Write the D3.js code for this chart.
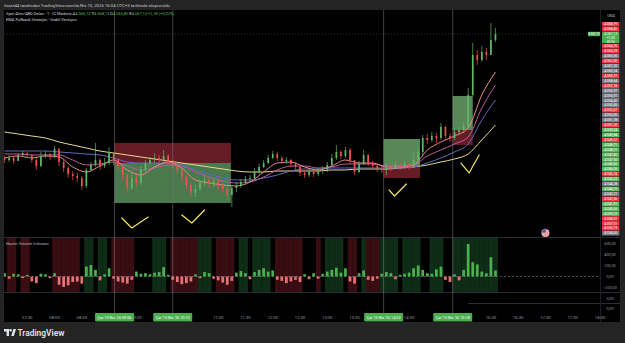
<!DOCTYPE html>
<html><head><meta charset="utf-8">
<script src="https://cdn.jsdelivr.net/npm/d3@7"></script>
<style>
html,body{margin:0;padding:0;background:#242424;overflow:hidden;}
svg{display:block;font-family:Roboto,"Noto Sans",sans-serif;}
</style></head><body>
<svg id="c" width="625" height="343"></svg>
<script>
// ---------------- DATA ----------------
const barStart = "07:05";
const barStepMin = 5;
const firstOpen = 4046.47;
const closes = [4046.13,4046.47,4045.97,4046.97,4047.30,4046.97,4046.13,4045.13,4046.80,4047.13,
 4046.63,4047.97,4045.80,4044.80,4043.80,4043.47,4043.13,4041.80,4044.47,4045.30,
 4046.13,4045.13,4045.63,4047.47,4046.13,4045.13,4043.63,4041.47,4043.13,4042.30,
 4044.47,4045.63,4046.13,4046.47,4046.13,4046.80,4045.80,4045.30,4044.47,4043.30,
 4041.97,4040.63,4041.30,4042.30,4042.80,4042.13,4042.63,4041.80,4041.30,4040.30,
 4041.47,4041.80,4042.47,4042.97,4043.13,4044.13,4044.97,4045.63,4046.47,4047.13,
 4046.47,4045.97,4046.13,4045.47,4044.97,4043.97,4043.63,4044.13,4043.80,4044.30,
 4044.47,4045.30,4046.47,4047.47,4046.80,4047.80,4046.13,4044.13,4045.47,4046.97,
 4045.63,4045.13,4044.63,4044.47,4044.97,4044.80,4045.30,4045.13,4045.47,4044.97,
 4046.13,4047.47,4049.80,4049.47,4050.13,4049.80,4051.63,4050.13,4049.80,4050.80,
 4051.13,4051.80,4056.97,4063.63,4062.80,4064.13,4063.63,4066.13,4067.13];
const highs = [4046.80,4046.97,4046.63,4047.30,4047.63,4047.47,4047.13,4046.47,4047.47,4047.63,
 4047.30,4048.47,4048.13,4046.13,4045.13,4044.30,4043.97,4043.47,4044.80,4045.80,
 4048.97,4046.47,4046.47,4048.30,4047.47,4046.47,4045.30,4043.80,4043.97,4043.63,
 4045.13,4046.13,4046.63,4047.30,4046.97,4047.80,4047.13,4046.13,4045.80,4044.80,
 4043.63,4042.30,4041.97,4042.80,4043.47,4043.30,4043.13,4042.80,4042.30,4041.80,
 4041.97,4042.47,4042.97,4043.47,4043.63,4044.80,4045.47,4046.13,4046.97,4047.63,
 4047.47,4046.80,4046.63,4046.30,4045.80,4045.13,4044.47,4044.63,4044.47,4044.80,
 4045.13,4045.80,4047.13,4048.63,4047.80,4048.30,4048.13,4046.13,4045.97,4047.80,
 4047.13,4045.97,4045.30,4045.13,4045.63,4045.47,4045.80,4045.63,4045.97,4045.63,
 4047.30,4048.13,4050.30,4050.47,4050.80,4050.63,4052.30,4051.80,4050.63,4051.47,
 4051.63,4052.47,4058.13,4065.63,4064.47,4065.13,4064.80,4068.97,4068.13];
const lows = [4045.63,4045.80,4045.47,4045.97,4046.80,4046.47,4045.63,4044.47,4044.97,4046.47,
 4046.13,4046.47,4045.13,4044.13,4043.13,4042.80,4042.47,4041.13,4041.47,4044.30,
 4044.97,4044.47,4044.80,4045.30,4045.30,4044.47,4042.80,4040.63,4041.13,4041.63,
 4041.97,4044.13,4045.30,4045.63,4045.47,4045.80,4045.13,4044.63,4043.80,4042.63,
 4041.30,4039.97,4039.97,4040.97,4041.80,4041.47,4041.63,4041.13,4040.63,4039.47,
 4038.30,4040.80,4041.47,4042.13,4042.47,4042.97,4043.80,4044.80,4045.47,4046.30,
 4045.97,4045.47,4045.47,4044.97,4044.47,4043.47,4043.13,4043.30,4043.30,4043.47,
 4043.80,4044.13,4045.13,4046.13,4046.30,4046.47,4045.47,4043.63,4043.97,4045.30,
 4045.13,4044.63,4044.13,4043.97,4043.63,4044.30,4044.63,4044.47,4044.80,4044.47,
 4044.80,4045.47,4046.97,4048.80,4049.13,4048.97,4049.47,4049.47,4049.13,4049.47,
 4050.30,4050.63,4051.47,4056.80,4061.97,4062.47,4062.80,4063.63,4065.80];
const volumes = [60,-40,50,40,-30,30,-90,-120,50,40,
 -30,60,-150,-190,-160,-100,-90,-130,180,210,
 120,-70,40,150,-40,-90,-110,-130,-60,90,
 50,60,40,70,80,170,30,-60,-100,-140,
 -120,-90,40,-30,80,60,-40,-70,-110,-150,
 -80,70,100,60,-50,80,120,150,90,110,
 -60,-80,-120,-90,-60,-100,40,-50,60,-40,
 50,90,120,160,70,150,-90,-130,60,110,
 -60,-80,-40,50,80,60,-50,30,50,70,
 150,200,120,60,50,130,180,-60,-100,40,
 -70,120,590,260,220,90,60,350,110];
const volumeState = [0,-1,-1,0,-1,-1,0,0,0,0,
 0,-1,-1,-1,-1,-1,-1,0,1,1,
 0,1,1,0,-1,-1,-1,-1,-1,0,
 0,0,0,1,1,1,0,-1,-1,-1,
 -1,-1,-1,1,1,1,0,-1,-1,-1,
 -1,0,1,1,0,1,1,1,1,0,
 -1,-1,-1,-1,-1,-1,0,0,0,-1,
 0,1,1,1,1,0,-1,-1,0,1,
 -1,-1,-1,1,1,1,1,0,1,1,
 1,1,0,0,1,1,1,0,0,1,
 1,1,1,1,1,1,1,1,1];
const emaStart = "07:05";
const emaStepMin = 15;
const emaFast = [4046.47,4046.80,4046.47,4046.80,4046.63,4044.97,4044.13,4045.13,4046.13,4044.47,4043.63,4044.97,4045.80,4044.80,4042.80,4042.30,4041.97,4041.80,4042.47,4044.13,4045.63,4045.80,4044.97,4044.47,4045.13,4046.13,4045.63,4045.63,4044.97,4044.97,4045.30,4047.80,4049.13,4050.13,4051.47,4056.97,4060.80];
const emaMid = [4047.13,4047.13,4046.97,4046.97,4046.97,4046.13,4045.30,4045.47,4045.80,4045.13,4044.47,4044.80,4045.30,4045.13,4044.13,4043.30,4042.63,4042.30,4042.47,4043.30,4044.47,4045.13,4045.13,4044.80,4044.97,4045.47,4045.47,4045.47,4045.13,4045.13,4045.30,4046.80,4047.80,4048.80,4049.97,4054.80,4058.63];
const emaSlow = [4047.63,4047.63,4047.63,4047.63,4047.47,4047.30,4047.13,4046.97,4046.47,4045.80,4045.63,4045.63,4045.63,4045.30,4044.47,4043.80,4043.13,4042.80,4042.80,4043.13,4043.63,4044.30,4044.63,4044.63,4044.80,4044.80,4044.80,4044.80,4044.80,4044.80,4044.97,4045.63,4046.47,4047.47,4048.80,4052.80,4056.13];
const emaLong = [4050.80,4050.47,4050.13,4049.80,4049.13,4048.63,4048.13,4047.63,4047.30,4046.97,4046.63,4046.30,4045.97,4045.63,4045.30,4044.97,4044.63,4044.30,4044.13,4044.13,4044.30,4044.30,4044.30,4044.30,4044.47,4044.47,4044.63,4044.63,4044.63,4044.80,4044.97,4045.30,4045.80,4046.30,4047.13,4049.47,4051.97];
// position tools
const zoneStart = ["09:06","10:10","14:02","15:18"];
const zoneEnd   = ["10:10","11:14","14:42","15:40"];
const zoneHigh  = [4048.97,4048.97,4049.63,4056.80];
const zoneEntry = [4045.63,4045.63,4045.13,4051.13];
const zoneLow   = [4038.97,4038.97,4043.13,4048.63];
const zoneSide  = [-1,-1,1,1]; // -1 short, 1 long
// hand drawn check marks
const checkTimes  = [["09:14","09:25","09:43"],["10:20","10:31","10:45"],["14:08","14:14","14:27"],["15:27","15:36","15:47"]];
const checkPrices = [[4036.47,4034.80,4036.63],[4036.97,4035.63,4037.80],[4041.13,4040.13,4042.13],[4045.63,4043.97,4046.97]];
// vertical markers
const markerTimes = ["09:06","10:10","14:02","15:18"];
const markerLabels = ["Çar 15 Nis '26  09:06","Çar 15 Nis '26  10:10","Çar 15 Nis '26  14:02","Çar 15 Nis '26  15:18"];
const timeTicks = ["07:30","08:00","08:30","09:30","11:00","11:30","12:00","12:30","13:00","13:30","14:30","16:00","16:30","17:00","17:30","18:00"];
const volumeTicks = [600,400,200,0,-200];
const eventTime = "17:00";
// price scale labels (stacked)
const axisAbove = [4068.79,4068.45];
const axisAboveKind = [-1,-1];
const axisBelow = [4064.70,4064.29,4063.30,4062.50,4061.20,4060.24,4059.77,4058.64,4057.18,4055.97,
 4055.01,4054.42,4053.45,4052.67,4052.00,4051.78,4051.20,4050.24,4049.84,4049.22,
 4048.71,4048.21,4047.82,4047.30,4046.60,4046.05,4045.74,4045.22,4044.28,4044.15,
 4043.21,4042.56,4041.97,4040.65,4039.22,4038.51,4037.51,4036.19,4034.65];
const axisBelowKind = [-1,-1,0,-1,0,0,-1,0,-1,0,
 0,0,0,-1,0,0,-1,1,1,-1,
 1,1,1,1,1,1,-1,1,0,1,
 0,-1,1,1,1,-1,-1,-1,0];
const headerText = "fozze44 tarafından TradingView.com'da Nis 15, 2026 16:04 UTC+3 tarihinde oluşturuldu";
const symbolText = "Spot Altın/ABD Doları · 1 · IC Markets";
const strategyText = "EMA Pullback Stratejisi - Stabil Versiyon";
const volumeTitle = "Hacim Volume Indicator";

// ---------------- SETUP ----------------
const svg = d3.select("#c");
const W = 625, H = 343;
const L = 4, R = 600, AX = 620;
const mainTop = 10, mainBot = 237, volTop = 238, volBot = 292, axTop = 312, axBot = 322;
const UP = "#5fb863", DN = "#ef5350", GRAY = "#787b86";
const loc = d3.formatLocale({decimal: ",", thousands: ".", grouping: [3], currency: ["", ""]});
const fmtP = loc.format(",.2f");
const fmtV = loc.format(".2f");

const parseT = s => { const [h, m] = s.split(":").map(Number); return new Date(2026, 3, 15, h, m); };
const x = d3.scaleTime().domain([parseT("07:00"), parseT("18:00")]).range([0, 600]);
const y = d3.scaleLinear().domain([4033.30, 4071.13]).range([mainBot, mainTop]);
const yv = d3.scaleLinear().domain([-200, 600]).range([287.5, 243.5]);

const t0 = parseT(barStart);
const bars = closes.map((c, i) => {
  const o = i === 0 ? firstOpen : closes[i - 1];
  return {t: new Date(+t0 + i * barStepMin * 60000), o, c, h: Math.max(highs[i], o, c), l: Math.min(lows[i], o, c), v: volumes[i], s: volumeState[i]};
});
const stepPx = x(new Date(+t0 + barStepMin * 60000)) - x(t0);

svg.append("rect").attr("width", W).attr("height", H).attr("fill", "#242424");
svg.append("rect").attr("x", L).attr("y", mainTop).attr("width", AX - L).attr("height", axBot - mainTop).attr("fill", "#000");

const defs = svg.append("defs");
defs.append("clipPath").attr("id", "clipMain").append("rect").attr("x", L).attr("y", mainTop).attr("width", R - L).attr("height", mainBot - mainTop);
defs.append("clipPath").attr("id", "clipVol").append("rect").attr("x", L).attr("y", volTop).attr("width", R - L).attr("height", volBot - volTop);

// ---------------- MAIN PANE ----------------
const gm = svg.append("g").attr("clip-path", "url(#clipMain)");

zoneStart.forEach((s, i) => {
  const x0 = x(parseT(s)), x1 = x(parseT(zoneEnd[i]));
  const upperCol = zoneSide[i] > 0 ? "#5d8f5d" : "#6b1d26";
  const lowerCol = zoneSide[i] > 0 ? "#6b1d26" : "#4f7f52";
  gm.append("rect").attr("x", x0).attr("y", y(zoneHigh[i])).attr("width", x1 - x0)
    .attr("height", y(zoneEntry[i]) - y(zoneHigh[i])).attr("fill", upperCol).attr("opacity", 0.95);
  gm.append("rect").attr("x", x0).attr("y", y(zoneEntry[i])).attr("width", x1 - x0)
    .attr("height", y(zoneLow[i]) - y(zoneEntry[i])).attr("fill", lowerCol).attr("opacity", 0.95);
});

const e0 = parseT(emaStart);
const emaLine = d3.line().x((d, i) => x(new Date(+e0 + i * emaStepMin * 60000))).y(d => y(d)).curve(d3.curveMonotoneX);
[[emaLong, "#e8da8e"], [emaSlow, "#5c6bc0"], [emaMid, "#c05a9c"], [emaFast, "#ef8a8a"]].forEach(([arr, col]) => {
  gm.append("path").datum(arr).attr("d", emaLine).attr("fill", "none").attr("stroke", col).attr("stroke-width", 1);
});

const bw = 1.7;
const cg = gm.append("g");
cg.selectAll("line").data(bars).join("line")
  .attr("x1", d => x(d.t)).attr("x2", d => x(d.t))
  .attr("y1", d => y(d.h)).attr("y2", d => y(d.l))
  .attr("stroke", d => d.c >= d.o ? UP : DN).attr("stroke-width", 0.7);
cg.selectAll("rect").data(bars).join("rect")
  .attr("x", d => x(d.t) - bw / 2).attr("width", bw)
  .attr("y", d => y(Math.max(d.o, d.c))).attr("height", d => Math.max(0.8, Math.abs(y(d.o) - y(d.c))))
  .attr("fill", d => d.c >= d.o ? UP : DN);

const last = bars[bars.length - 1];
gm.append("line").attr("x1", L).attr("x2", R).attr("y1", y(last.c)).attr("y2", y(last.c))
  .attr("stroke", UP).attr("stroke-opacity", 0.35).attr("stroke-dasharray", "1,2");
gm.append("rect").attr("x", R - 12).attr("y", y(last.c) - 2.2).attr("width", 12).attr("height", 4.4).attr("fill", "#4caf50");
gm.append("text").attr("x", R - 6).attr("y", y(last.c) + 1.2).attr("text-anchor", "middle").attr("font-size", 3).attr("fill", "#fff").text(fmtP(last.c));

const chkLine = d3.line().x(d => x(parseT(d[0]))).y(d => y(d[1]));
checkTimes.forEach((ts, i) => {
  gm.append("path").datum(ts.map((t, k) => [t, checkPrices[i][k]])).attr("d", chkLine)
    .attr("fill", "none").attr("stroke", "#f5e663").attr("stroke-width", 1.2).attr("stroke-linecap", "round").attr("stroke-linejoin", "round");
});

const fx = x(parseT(eventTime)), fy = 233;
defs.append("clipPath").attr("id", "flagClip").append("circle").attr("cx", fx).attr("cy", fy).attr("r", 3.8);
const fg = svg.append("g").attr("clip-path", "url(#flagClip)");
fg.append("rect").attr("x", fx - 4).attr("y", fy - 4).attr("width", 8).attr("height", 8).attr("fill", "#e53935");
[ -2.5, -0.5, 1.5, 3.5 ].forEach(o => fg.append("rect").attr("x", fx - 4).attr("y", fy + o).attr("width", 8).attr("height", 1).attr("fill", "#fff"));
fg.append("rect").attr("x", fx - 4).attr("y", fy - 4).attr("width", 4).attr("height", 3.5).attr("fill", "#3949ab");
svg.append("circle").attr("cx", fx).attr("cy", fy).attr("r", 3.9).attr("fill", "none").attr("stroke", "#ddd").attr("stroke-width", 0.5);

// ---------------- VOLUME PANE ----------------
const gv = svg.append("g").attr("clip-path", "url(#clipVol)");
gv.selectAll("rect.bg").data(bars.filter(d => d.s !== 0)).join("rect").attr("class", "bg")
  .attr("x", d => x(d.t) - stepPx / 2).attr("width", stepPx + 0.2)
  .attr("y", volTop).attr("height", volBot - volTop)
  .attr("fill", d => d.s > 0 ? "#0f2c17" : "#3a0d12");
gv.append("line").attr("x1", L).attr("x2", R).attr("y1", yv(0)).attr("y2", yv(0))
  .attr("stroke", GRAY).attr("stroke-dasharray", "2,2").attr("stroke-width", 0.6);
gv.selectAll("rect.v").data(bars).join("rect").attr("class", "v")
  .attr("x", d => x(d.t) - stepPx * 0.3).attr("width", stepPx * 0.6)
  .attr("y", d => Math.min(yv(0), yv(d.v))).attr("height", d => Math.abs(yv(d.v) - yv(0)))
  .attr("fill", d => d.v >= 0 ? "#4caf50" : "#e57373");
gv.append("text").attr("x", 6).attr("y", 245).attr("font-size", 4).attr("fill", "#b2b5be").text(volumeTitle);

svg.append("line").attr("x1", L).attr("x2", AX).attr("y1", 237.5).attr("y2", 237.5).attr("stroke", "#2a2e39");
svg.append("line").attr("x1", L).attr("x2", AX).attr("y1", 292.5).attr("y2", 292.5).attr("stroke", "#2a2e39");
svg.append("line").attr("x1", x(parseT("15:35"))).attr("x2", AX).attr("y1", 303.5).attr("y2", 303.5).attr("stroke", "#2a2e39");
svg.append("line").attr("x1", R + 0.5).attr("x2", R + 0.5).attr("y1", mainTop).attr("y2", axBot).attr("stroke", "#1c1f26");

markerTimes.forEach(t => {
  svg.append("line").attr("x1", x(parseT(t))).attr("x2", x(parseT(t))).attr("y1", mainTop).attr("y2", axTop + 1)
    .attr("stroke", "#9598a1").attr("stroke-opacity", 0.55).attr("stroke-width", 0.8);
});

// ---------------- AXES ----------------
svg.append("g").selectAll("text").data(timeTicks).join("text")
  .attr("x", d => x(parseT(d))).attr("y", 319).attr("text-anchor", "middle")
  .attr("font-size", 4.2).attr("fill", "#9598a1").text(d => d);
markerTimes.forEach((t, i) => {
  const cx = x(parseT(t));
  svg.append("rect").attr("x", cx - 19.5).attr("y", 313).attr("width", 39).attr("height", 8.5).attr("rx", 1).attr("fill", "#4caf50");
  svg.append("text").attr("x", cx).attr("y", 318.8).attr("text-anchor", "middle").attr("font-size", 3.8).attr("fill", "#fff").text(markerLabels[i]);
});

svg.append("g").selectAll("text").data(volumeTicks).join("text")
  .attr("x", 610).attr("y", d => yv(d) + 1.4).attr("text-anchor", "middle")
  .attr("font-size", 3.8).attr("fill", "#9598a1").text(d => fmtV(d));
svg.append("text").attr("x", 610).attr("y", 299.5).attr("text-anchor", "middle").attr("font-size", 3.8).attr("fill", "#9598a1").text(fmtV(0));
svg.append("text").attr("x", 610).attr("y", 310).attr("text-anchor", "middle").attr("font-size", 3.8).attr("fill", "#9598a1").text(fmtV(0));

const kindCol = k => k > 0 ? "#5cb860" : (k < 0 ? "#f23645" : "#787b86");
const ax = 602, aw = 17.5, pitch = 4.92;
const pg = svg.append("g");
axisAbove.forEach((v, i) => {
  const yy = 22 + i * pitch;
  pg.append("rect").attr("x", ax).attr("y", yy).attr("width", aw).attr("height", pitch - 0.3).attr("fill", kindCol(axisAboveKind[i]));
  pg.append("text").attr("x", ax + aw / 2).attr("y", yy + 3.4).attr("text-anchor", "middle").attr("font-size", 3.4).attr("fill", "#fff").text(fmtP(v));
});
{
  const yy = 22 + 2 * pitch;
  pg.append("rect").attr("x", ax).attr("y", yy).attr("width", aw).attr("height", 11.5).attr("fill", "#4caf50");
  const lines = [fmtP(last.c), (last.c - last.o >= 0 ? "+" : "") + fmtV(last.c - last.o), "00:56"];
  lines.forEach((s, k) => pg.append("text").attr("x", ax + aw / 2).attr("y", yy + 3.4 + k * 3.7).attr("text-anchor", "middle").attr("font-size", 3.3).attr("fill", "#fff").text(s));
}
axisBelow.forEach((v, i) => {
  const yy = 44 + i * pitch;
  pg.append("rect").attr("x", ax).attr("y", yy).attr("width", aw).attr("height", pitch - 0.3).attr("fill", kindCol(axisBelowKind[i]));
  pg.append("text").attr("x", ax + aw / 2).attr("y", yy + 3.4).attr("text-anchor", "middle").attr("font-size", 3.4).attr("fill", "#fff").text(fmtP(v));
});
svg.append("text").attr("x", 611).attr("y", 17).attr("text-anchor", "middle").attr("font-size", 4).attr("fill", "#d1d4dc").text("USD");

// ---------------- TEXTS ----------------
svg.append("text").attr("x", 4).attr("y", 6.5).attr("font-size", 4.3).attr("fill", "#c8cad0").text(headerText);
const lg = svg.append("text").attr("x", 6).attr("y", 15).attr("font-size", 4).attr("fill", "#d1d4dc");
lg.append("tspan").text(symbolText + "  ");
[["A", last.o], ["Y", last.h], ["D", last.l], ["K", last.c]].forEach(([k, v]) => {
  lg.append("tspan").attr("fill", "#d1d4dc").text(" " + k);
  lg.append("tspan").attr("fill", UP).text(fmtP(v));
});
lg.append("tspan").attr("fill", UP).text("  +" + fmtV(last.c - last.o) + " (+" + fmtV((last.c - last.o) / last.o * 100) + "%)");
svg.append("text").attr("x", 6).attr("y", 20.5).attr("font-size", 4).attr("fill", "#d1d4dc").text(strategyText);

const logo = svg.append("g").attr("transform", "translate(4,329)");
logo.append("path").attr("d", "M0,0 H5 V7 H2.6 V2.4 H0 Z").attr("fill", "#e0e3eb");
logo.append("circle").attr("cx", 6.6).attr("cy", 1.3).attr("r", 1.3).attr("fill", "#e0e3eb");
logo.append("path").attr("d", "M7.2,7 L9.4,0 H12 L9.8,7 Z").attr("fill", "#e0e3eb");
svg.append("text").attr("x", 17.5).attr("y", 336).attr("font-size", 8.4).attr("font-weight", 600).attr("fill", "#e0e3eb").text("TradingView");
</script>
</body></html>
